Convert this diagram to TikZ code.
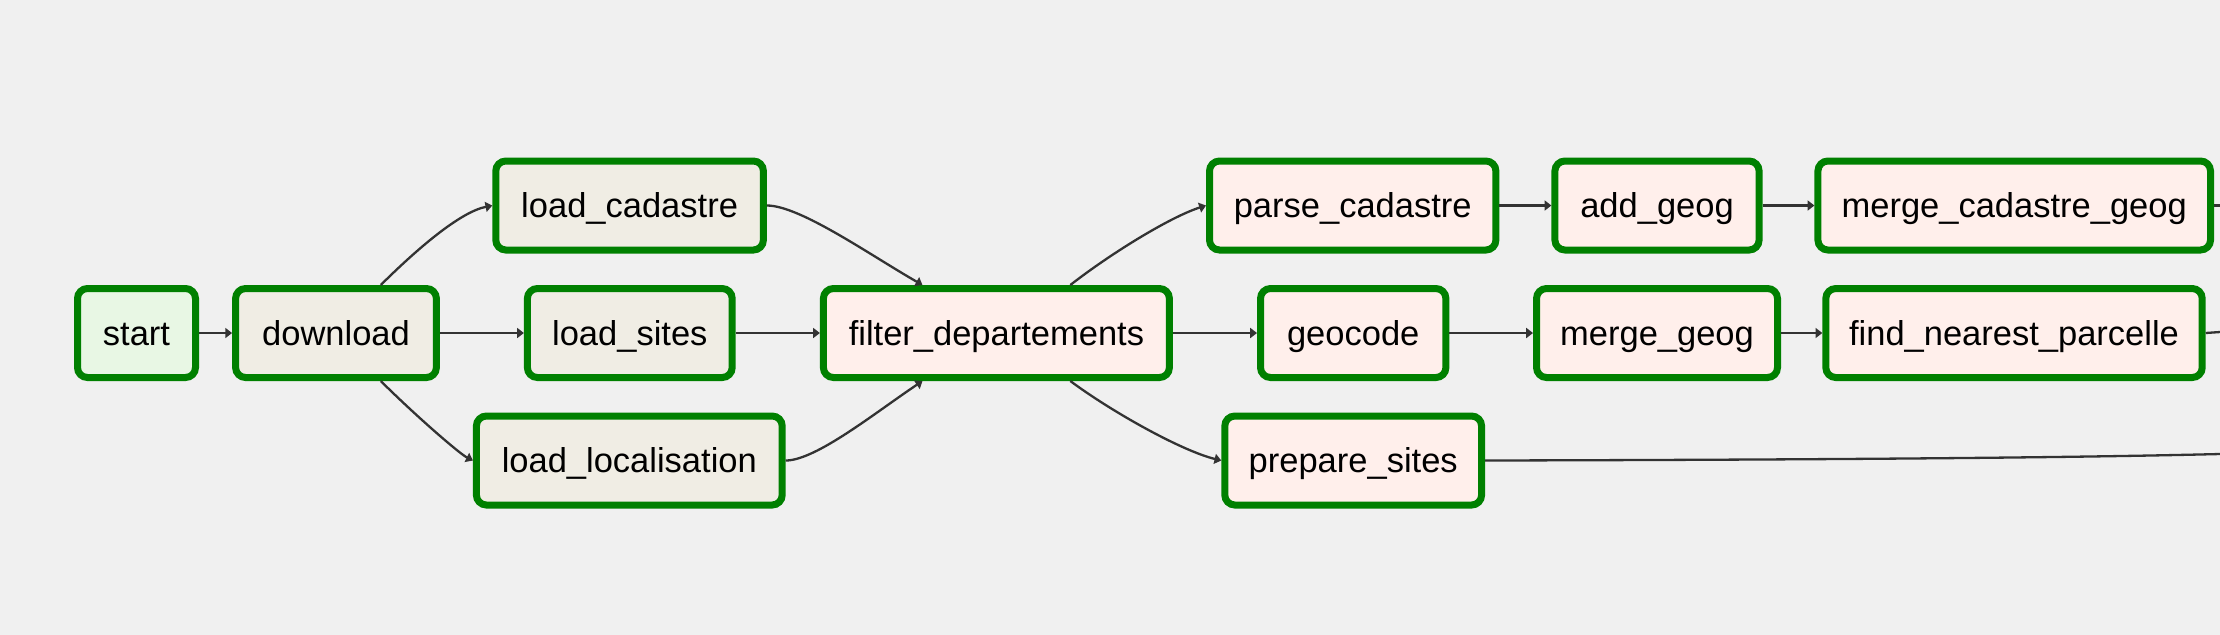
\documentclass[tikz,border=0pt]{standalone}
\usepackage{fontspec}
\setmainfont{Liberation Sans}
\usetikzlibrary{arrows.meta}
\definecolor{bgcol}{HTML}{F0F0F0}
\definecolor{taskgreen}{HTML}{008000}
\definecolor{dummyfill}{HTML}{E8F7E4}
\definecolor{bashfill}{HTML}{F0EDE4}
\definecolor{pyfill}{HTML}{FFEFEB}
\definecolor{edgecol}{HTML}{333333}
\begin{document}
\begin{tikzpicture}[x=0.5pt,y=-0.5pt,
  task/.style={draw=taskgreen, line width=3.5pt, rounded corners=5pt,
    minimum height=44.5pt, inner xsep=2pt, inner ysep=0pt,
    font=\fontsize{17.25pt}{20pt}\selectfont,
    text height=15.9pt, text depth=3.66pt},
  dummytask/.style={task, fill=dummyfill},
  bashtask/.style={task, fill=bashfill},
  pytask/.style={task, fill=pyfill},
  flow/.style={draw=edgecol, line width=1.15pt, -{Triangle[length=3.4pt,width=5pt]}},
  openflow/.style={draw=edgecol, line width=1.15pt}]
\useasboundingbox (0,0) rectangle (2220,634);
\fill[bgcol] (-10,-10) rectangle (2230,644);

% nodes
\node[dummytask, minimum width=59pt]    (start)     at (136.5,333)   {start};
\node[bashtask,  minimum width=100.4pt] (download)  at (336,333)     {download};
\node[bashtask,  minimum width=133.8pt] (loadcad)   at (629.6,205.5) {load\_cadastre};
\node[bashtask,  minimum width=102.4pt] (loadsites) at (629.8,333)   {load\_sites};
\node[bashtask,  minimum width=152.9pt] (loadloc)   at (629.3,460.5) {load\_localisation};
\node[pytask,    minimum width=173pt]   (filter)    at (996.4,333)   {filter\_departements};
\node[pytask,    minimum width=143.2pt] (parse)     at (1352.7,205.5) {parse\_cadastre};
\node[pytask,    minimum width=102.1pt] (addgeog)   at (1657,205.5)  {add\_geog};
\node[pytask,    minimum width=196.3pt] (mergecad)  at (2014.2,205.5) {merge\_cadastre\_geog};
\node[pytask,    minimum width=92.7pt]  (geocode)   at (1353.2,333)  {geocode};
\node[pytask,    minimum width=120.5pt] (mergegeog) at (1657,333)    {merge\_geog};
\node[pytask,    minimum width=188.2pt] (findnear)  at (2014,333)    {find\_nearest\_parcelle};
\node[pytask,    minimum width=128.4pt] (prepare)   at (1353.2,460.5) {prepare\_sites};

% free ends leaving the picture
\coordinate (outA) at (2220,205.5);
\coordinate (outB) at (2220,332);
\coordinate (outC) at (2220,454);

% connectors
\draw[flow] (start.east) -- (download.west);
\draw[flow] (download.47) .. controls (417,249) and (460,212) .. (loadcad.west);
\draw[flow] (download.east) -- (loadsites.west);
\draw[flow] (download.-47) .. controls (417,417) and (460,454) .. (loadloc.west);

\draw[flow] (loadcad.east) .. controls (800,205.5) and (870,255) .. (filter.147);
\draw[flow] (loadsites.east) -- (filter.west);
\draw[flow] (loadloc.east) .. controls (816,460.5) and (876,412) .. (filter.-147);

\draw[flow] (filter.33) .. controls (1110,254) and (1170,217) .. (parse.west);
\draw[flow] (filter.east) -- (geocode.west);
\draw[flow] (filter.-33) .. controls (1112,412) and (1182,451) .. (prepare.west);

\draw[flow] (parse.east) -- (addgeog.west);
\draw[flow] (addgeog.east) -- (mergecad.west);
\draw[flow] (geocode.east) -- (mergegeog.west);
\draw[flow] (mergegeog.east) -- (findnear.west);

\draw[openflow] (mergecad.east) -- (outA);
\draw[openflow] (findnear.east) -- (outB);
\draw[openflow] (prepare.east) .. controls (1900,459.5) and (2100,457) .. (outC);
\end{tikzpicture}
\end{document}
